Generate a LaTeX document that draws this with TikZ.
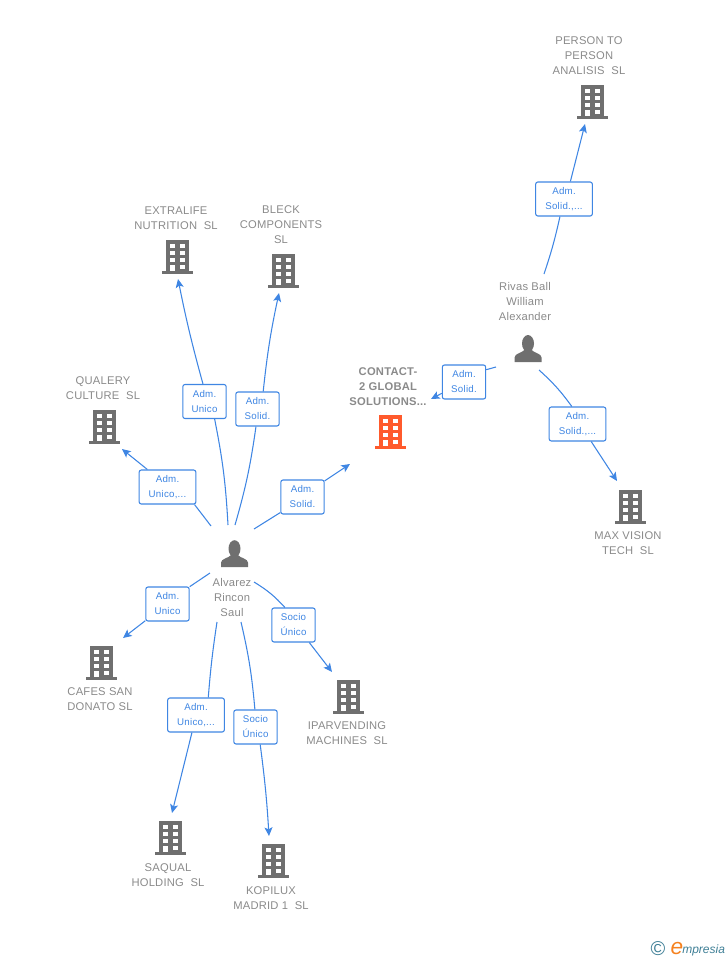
\documentclass[tikz,border=0pt]{standalone}
\usepackage{fontspec}
\setmainfont{Liberation Sans}
\usetikzlibrary{arrows.meta, positioning}

\definecolor{wireblue}{HTML}{3F86E3}
\definecolor{inkgray}{HTML}{8A8A8A}
\definecolor{icongray}{HTML}{6F6F6F}
\definecolor{iconred}{HTML}{FF5A2C}
\definecolor{logoblue}{HTML}{3F7F96}
\definecolor{logoorange}{HTML}{F58220}

\tikzset{
  wire/.style={wireblue, line width=0.8pt},
  wiretip/.style={wire, -{Stealth[length=6.5pt, width=6pt, inset=1.5pt]}},
  rolebox/.style={draw=wireblue, fill=white, line width=0.8pt, rounded corners=1.6pt,
    minimum height=25.5pt, inner sep=0pt, align=center, text=wireblue,
    font=\fontsize{7.3}{11.25}\selectfont\addfontfeatures{LetterSpace=2.5}},
  rolesmall/.style={rolebox, minimum width=32.5pt},
  rolewide/.style={rolebox, minimum width=42.5pt},
  caption/.style={align=center, inner sep=0pt, text=inkgray,
    font=\fontsize{8.4}{11.25}\selectfont\addfontfeatures{LetterSpace=2}},
  building/.pic={
    \fill (-11.5,14) rectangle (11.5,-17);
    \fill (-15.5,14) rectangle (15.5,17);
    \foreach \wy in {-13.5,-6.5,0.5} {
      \fill[white] (-7.5,\wy) rectangle (-2.5,\wy+4.5);
      \fill[white] (2.5,\wy) rectangle (7.5,\wy+4.5);
    }
    \fill[white] (-7.5,7.5) rectangle (-2.5,14);
    \fill[white] (2.5,7.5) rectangle (7.5,12);
  },
  person/.pic={
    \fill (0,-5) ellipse (6 and 8.5);
    \fill (-13.5,13.5) -- (-13.5,9) .. controls (-13.5,5) and (-6,4.5) .. (-3,1)
      -- (3,1) .. controls (6,4.5) and (13.5,5) .. (13.5,9) -- (13.5,13.5) -- cycle;
  }
}

\begin{document}
\begin{tikzpicture}[x=0.75pt, y=-0.75pt]
  \useasboundingbox (0,0) rectangle (728,960);

  % Icons
  \foreach \name/\px/\py in {personto/592/102, extralife/177/257, bleck/283/271,
      qualery/104/427, maxvision/630/507, cafes/101/663, iparvending/348/697,
      saqual/170/838, kopilux/273/861} {
    \pic[icongray] (\name) at (\px,\py) {building};
  }
  \pic[iconred] (contact) at (390.5,432) {building};
  \pic[icongray] (alvarez) at (234.5,553.7) {person};
  \pic[icongray] (rivas) at (528,348.5) {person};

  % Captions
  \node[caption] (personcap) at (589,56) {PERSON TO\\PERSON\\ANALISIS\ \ SL};
  \node[caption] (extralifecap) at (176,218.5) {EXTRALIFE\\NUTRITION\ \ SL};
  \node[caption] (bleckcap) at (281,225) {BLECK\\COMPONENTS\\SL};
  \node[caption] (qualerycap) at (103,388.5) {QUALERY\\CULTURE\ \ SL};
  \node[caption, font=\fontsize{8.4}{11.25}\selectfont\bfseries\addfontfeatures{LetterSpace=2}] (contactcap) at (388,387) {CONTACT-\\2 GLOBAL\\SOLUTIONS...};
  \node[caption] (maxcap) at (628,543.5) {MAX VISION\\TECH\ \ SL};
  \node[caption] (cafescap) at (100,699.5) {CAFES SAN\\DONATO SL};
  \node[caption] (iparcap) at (347,733.5) {IPARVENDING\\MACHINES\ \ SL};
  \node[caption] (saqualcap) at (168,875.5) {SAQUAL\\HOLDING\ \ SL};
  \node[caption] (kopiluxcap) at (271,898.5) {KOPILUX\\MADRID 1\ \ SL};
  \node[caption] (rivascap) at (525,301) {Rivas Ball\\William\\Alexander};
  \node[caption] (alvarezcap) at (232,597) {Alvarez\\Rincon\\Saul};

  % Role boxes
  \node[rolesmall] (boxextra) at (204.5,401.5) {Adm.\\Unico};
  \node[rolesmall] (boxbleck) at (257.5,409) {Adm.\\Solid.};
  \node[rolewide] (boxqual) at (167.5,487) {Adm.\\Unico,...};
  \node[rolesmall] (boxcontact) at (302.5,497) {Adm.\\Solid.};
  \node[rolesmall] (boxcafes) at (167.5,604) {Adm.\\Unico};
  \node[rolewide] (boxsaqual) at (196,715) {Adm.\\Unico,...};
  \node[rolesmall] (boxkopi) at (255.5,727) {Socio\\Único};
  \node[rolesmall] (boxipar) at (293.5,625) {Socio\\Único};
  \node[rolewide] (boxperson) at (564,199) {Adm.\\Solid.,...};
  \node[rolesmall] (boxrivas) at (464,382) {Adm.\\Solid.};
  \node[rolewide] (boxmax) at (577.5,424) {Adm.\\Solid.,...};

  % Free ends of the connectors
  \foreach \name/\px/\py in {tailextra/228/525, headextra/178/279,
      tailbleck/235/525, headbleck/279/293,
      tailqual/211/526, headqual/122/449,
      tailcontact/254/529, headcontact/350/464,
      tailcafes/210/573, headcafes/123/638,
      tailsaqual/217/622, headsaqual/172/813,
      tailkopi/241/622, headkopi/269/836,
      tailipar/254/582, headipar/332/672,
      tailperson/544/274, headperson/585/124,
      tailrivas/496/367, headrivas/431/399,
      tailmax/539/370, headmax/617/481} {
    \coordinate (\name) at (\px,\py);
  }

  % Connectors through the role boxes
  \foreach \conn/\angin/\bendin/\angout/\bendout in {extra/-60/-4/95/2, bleck/-95/-4/72/3,
      qual/-33/0/139/0, contact/-145/0/36/0, cafes/38/0/-143/0, saqual/55/-2/-103/0,
      kopi/92/4/-75/2, ipar/116/8/-48/0, person/-103/-3/70/0, rivas/29/0/-153/0,
      max/108/6/-52/0} {
    \draw[wire] (tail\conn) to[bend left=\bendin] (box\conn.\angin);
    \draw[wiretip] (box\conn.\angout) to[bend left=\bendout] (head\conn);
  }

  % Logo
  \node[inner sep=0pt, text=logoblue, font=\fontsize{15}{15}\selectfont] (logoc) at (658,949) {©};
  \node[inner sep=0pt, text=logoorange, font=\fontsize{17}{17}\selectfont\itshape] (logoe) at (677,948) {e};
  \node[inner sep=0pt, anchor=west, text=logoblue, font=\fontsize{9}{9}\selectfont\itshape] (logotext) at (682,950) {mpresia};
\end{tikzpicture}
\end{document}
